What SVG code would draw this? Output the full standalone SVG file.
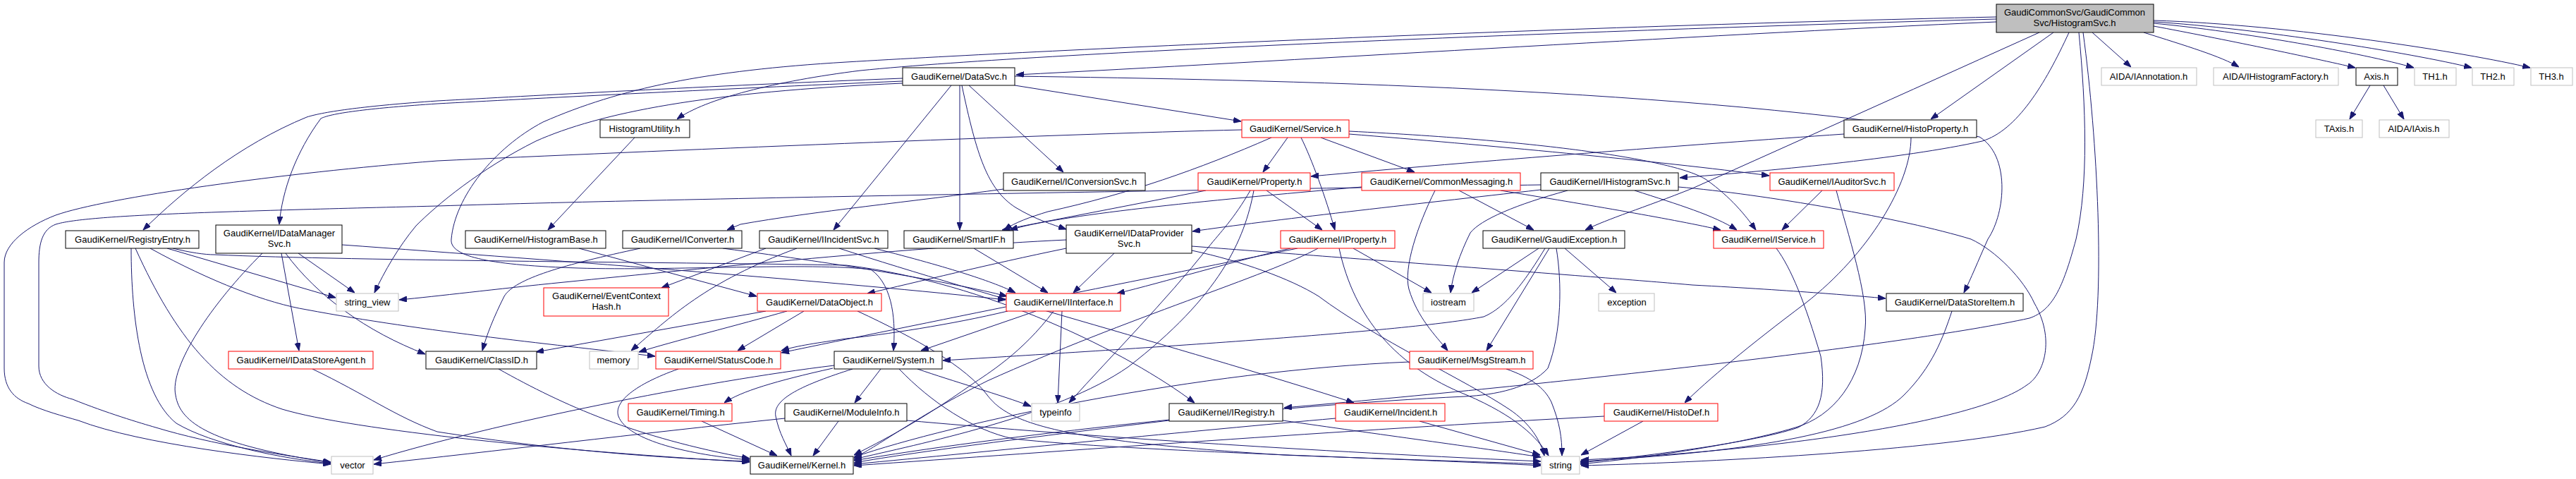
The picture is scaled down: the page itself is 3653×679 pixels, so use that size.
<svg xmlns="http://www.w3.org/2000/svg" width="3653" height="679" viewBox="0 0 3653 679">
<style>
rect{fill:#fff;stroke:#000;stroke-width:1}
.r rect{stroke:#ff0000}
.g rect{stroke:#bfbfbf}
.top rect{fill:#bfbfbf;stroke:#000}
text{font-family:"Liberation Sans",Arial,sans-serif;font-size:13px;text-anchor:middle;fill:#000}
#edges path{fill:none;stroke:#191970;stroke-width:1;marker-end:url(#ah)}
</style>
<defs>
<marker id="ah" markerWidth="11" markerHeight="8" refX="11" refY="4" orient="auto" markerUnits="userSpaceOnUse"><path d="M0,0 L11,4 L0,8 z" fill="#191970" stroke="#191970"/></marker>
</defs>
<rect x="0" y="0" width="3653" height="679" style="fill:#fff;stroke:none"/>
<g id="edges">
<path d="M2831,31 C2400,50 1800,88 1441,106"/>
<path d="M2831,27 C2300,42 1500,72 1220,100 C1100,115 1000,140 960,169"/>
<path d="M2831,24 C2200,38 1500,70 1200,88 C1000,100 880,125 770,173 C700,210 645,280 640,339 C637,365 700,376 820,380 C950,384 1150,372 1235,382 C1268,405 1270,460 1267,497"/>
<path d="M2912,46 L2738,169"/>
<path d="M2892,46 C2750,110 2550,200 2400,267 C2330,295 2280,310 2248,326"/>
<path d="M2934,46 C2900,120 2860,185 2811,200 C2700,225 2500,243 2382,252"/>
<path d="M2948,46 C2958,150 2962,260 2944,339 C2925,410 2910,440 2878,451 C2700,490 2200,545 1821,578"/>
<path d="M2954,46 C2975,200 2985,420 2966,506 C2955,560 2940,590 2900,605 C2750,640 2400,656 2242,660"/>
<path d="M2380,265 C2500,275 2700,310 2795,339 C2830,355 2870,396 2885,430 C2914,479 2900,530 2874,546 C2800,600 2500,640 2242,652"/>
<path d="M2967,46 L3022,95"/>
<path d="M3040,46 C3100,65 3150,80 3175,95"/>
<path d="M3054,37 C3150,55 3280,82 3340,96"/>
<path d="M3054,33 C3180,45 3350,75 3423,96"/>
<path d="M3054,31 C3200,40 3420,75 3505,96"/>
<path d="M3054,29 C3250,35 3500,75 3588,96"/>
<path d="M3361,121 L3332,169"/>
<path d="M3380,121 L3409,169"/>
<path d="M1280,111 C1000,122 750,136 620,143 C520,150 460,158 435,166 C340,205 260,270 203,326"/>
<path d="M1280,115 C1000,127 750,140 620,147 C530,153 470,160 455,168 C420,215 400,270 396,318"/>
<path d="M1349,121 L1182,326"/>
<path d="M1361,121 L1361,326"/>
<path d="M1364,121 C1385,220 1400,268 1440,294 C1470,312 1492,318 1512,325"/>
<path d="M1374,121 L1508,244"/>
<path d="M1439,121 L1760,172"/>
<path d="M1439,108 C1800,113 2400,125 2807,194 C2850,220 2845,300 2819,339 C2805,370 2795,395 2785,415"/>
<path d="M1280,118 C1000,130 850,160 760,200 C680,240 620,290 590,320 C565,350 545,385 531,415"/>
<path d="M900,195 L777,326"/>
<path d="M1761,184 C1500,190 900,215 620,228 C400,245 150,280 79,305 C40,320 6,345 6,372 L6,522 C6,550 20,565 40,572 C60,582 90,590 111,596 C200,630 380,650 469,658"/>
<path d="M1826,195 L1791,244"/>
<path d="M1803,195 C1700,240 1600,275 1486,300 C1460,308 1440,315 1424,326"/>
<path d="M1845,195 C1860,225 1880,280 1893,326"/>
<path d="M1873,195 L2006,244"/>
<path d="M1913,190 C2100,205 2350,228 2509,249"/>
<path d="M1913,186 C2200,200 2380,228 2420,255 C2455,280 2475,305 2490,326"/>
<path d="M2615,190 C2400,205 2100,228 1859,250"/>
<path d="M2710,195 C2710,260 2650,360 2560,430 C2480,490 2420,540 2389,571"/>
<path d="M1423,268 C1300,285 1150,300 1050,318 L1031,326"/>
<path d="M1796,270 L1875,326"/>
<path d="M1710,270 L1421,326"/>
<path d="M1773,270 C1750,310 1730,330 1714,350 C1650,430 1580,500 1516,571"/>
<path d="M1778,270 C1765,340 1730,420 1600,520 C1500,590 1300,630 1211,651"/>
<path d="M2035,270 C2010,320 1990,380 1998,410 C2010,450 2035,475 2053,497"/>
<path d="M2069,270 L2175,326"/>
<path d="M2128,270 C2250,290 2380,312 2440,326"/>
<path d="M1931,265 C1700,285 1500,305 1432,326"/>
<path d="M2185,269 C2000,290 1800,312 1691,328"/>
<path d="M2223,270 C2150,290 2100,311 2085,330 C2070,360 2060,390 2057,415"/>
<path d="M2318,270 C2380,290 2430,305 2463,326"/>
<path d="M2185,262 C1800,268 1000,280 620,292 C300,300 120,305 79,318 C60,325 55,345 55,372 L55,519 C55,545 80,560 103,566 C150,585 200,600 221,606 C300,630 400,645 469,655"/>
<path d="M2584,270 L2527,326"/>
<path d="M2604,270 C2620,330 2650,420 2645,466 C2640,540 2600,590 2546,606 C2450,635 2300,652 2241,658"/>
<path d="M1830,352 C1750,370 1650,400 1584,416"/>
<path d="M1919,352 L2030,415"/>
<path d="M1899,352 C1920,450 1980,520 2080,560 C2150,590 2180,620 2196,646"/>
<path d="M1869,352 C1800,390 1600,450 1400,540 C1300,590 1250,630 1211,649"/>
<path d="M1840,352 C1600,400 1300,460 1108,500"/>
<path d="M2182,352 L2087,415"/>
<path d="M2191,352 C2150,420 2125,440 2104,449 C2000,470 1600,495 1337,511"/>
<path d="M2197,352 L2108,497"/>
<path d="M2219,352 L2292,415"/>
<path d="M2207,352 C2215,400 2215,470 2195,522 C2170,550 2120,560 2077,562 C1800,575 1400,620 1211,653"/>
<path d="M1690,349 C1900,365 2300,395 2400,404 C2550,412 2640,420 2674,423"/>
<path d="M1580,359 L1522,415"/>
<path d="M1512,352 C1400,375 1300,400 1230,416"/>
<path d="M1690,355 C1760,370 1830,395 1870,420 C1950,480 2080,540 2140,580 C2170,600 2185,625 2190,646"/>
<path d="M1512,340 C1300,350 1000,380 800,400 C700,410 620,420 566,425"/>
<path d="M2519,352 C2540,380 2560,430 2582,505 C2590,560 2580,590 2550,606 C2480,630 2300,650 2241,656"/>
<path d="M2768,441 C2755,480 2740,520 2700,560 C2650,610 2500,640 2241,654"/>
<path d="M443,523 C520,560 560,590 620,612 C800,640 950,650 1063,654"/>
<path d="M707,523 C800,575 900,620 1063,650"/>
<path d="M962,523 C900,545 870,570 877,590 C890,625 980,645 1063,652"/>
<path d="M1086,441 L760,499"/>
<path d="M1116,441 C1050,460 950,485 906,499"/>
<path d="M1140,441 L1046,497"/>
<path d="M1216,441 C1300,480 1370,520 1400,560 C1430,600 1500,625 1820,645 C2000,652 2150,656 2185,658"/>
<path d="M1469,441 L1306,497"/>
<path d="M1506,441 L1500,571"/>
<path d="M1494,441 C1450,500 1400,530 1378,545 C1300,600 1250,625 1211,645"/>
<path d="M1429,441 C1350,460 1250,475 1200,480 C1160,486 1130,490 1108,497"/>
<path d="M1249,523 L1212,571"/>
<path d="M1301,523 C1350,540 1420,560 1462,576"/>
<path d="M1209,523 C1140,545 1095,565 1100,590 C1105,615 1115,630 1122,646"/>
<path d="M1181,522 C1100,540 1050,555 1027,571"/>
<path d="M1275,523 C1320,570 1380,610 1437,622 C1600,640 2000,650 2185,660"/>
<path d="M1183,518 C1000,540 700,600 530,652"/>
<path d="M1189,597 L1153,646"/>
<path d="M1113,593 C900,615 700,640 530,658"/>
<path d="M1286,596 C1500,615 1800,637 2185,654"/>
<path d="M995,597 L1102,646"/>
<path d="M1658,596 C1500,615 1300,640 1211,656"/>
<path d="M1819,596 C1950,615 2100,635 2185,648"/>
<path d="M1894,593 C1700,610 1400,640 1211,658"/>
<path d="M2013,597 L2184,645"/>
<path d="M2330,597 L2242,645"/>
<path d="M2275,590 C1900,610 1500,640 1211,660"/>
<path d="M2136,523 C2170,535 2190,549 2200,570 C2212,600 2215,620 2215,646"/>
<path d="M1999,513 C1700,525 1350,600 1211,648"/>
<path d="M186,352 C186,450 200,560 250,600 C300,630 400,650 469,657"/>
<path d="M192,352 C250,480 310,550 400,580 C500,610 800,640 1063,655"/>
<path d="M213,352 C300,400 380,430 435,439 C600,470 800,490 929,505"/>
<path d="M237,352 L476,422"/>
<path d="M245,352 C270,358 290,361 304,361 C500,370 1000,372 1200,376 C1400,400 1600,500 1694,571"/>
<path d="M372,359 C300,430 240,520 249,560 C255,600 300,630 469,656"/>
<path d="M399,359 L424,497"/>
<path d="M423,359 L503,415"/>
<path d="M405,359 C450,420 520,470 603,502"/>
<path d="M485,347 C800,370 1200,400 1426,425"/>
<path d="M821,352 L1073,420"/>
<path d="M908,352 C800,375 730,395 715,420 C700,450 690,475 684,497"/>
<path d="M1025,352 C1200,375 1350,400 1428,420"/>
<path d="M1086,352 L938,408"/>
<path d="M1130,352 C1000,400 950,450 895,497"/>
<path d="M1190,352 C1400,420 1700,500 1920,571"/>
<path d="M1240,352 C1350,380 1410,400 1440,415"/>
<path d="M1381,352 L1486,415"/>
</g>
<g id="n_top" class="top"><rect x="2831" y="6" width="223" height="40"/><text x="2942" y="22">GaudiCommonSvc/GaudiCommon</text><text x="2942" y="37">Svc/HistogramSvc.h</text></g>
<g id="n_datasvc"><rect x="1280" y="96" width="159" height="25"/><text x="1360" y="113">GaudiKernel/DataSvc.h</text></g>
<g id="n_histutil"><rect x="851" y="170" width="127" height="25"/><text x="914" y="187">HistogramUtility.h</text></g>
<g id="n_service" class="r"><rect x="1761" y="170" width="152" height="25"/><text x="1837" y="187">GaudiKernel/Service.h</text></g>
<g id="n_histoprop"><rect x="2615" y="170" width="188" height="25"/><text x="2709" y="187">GaudiKernel/HistoProperty.h</text></g>
<g id="n_iannot" class="g"><rect x="2980" y="96" width="135" height="25"/><text x="3047" y="113">AIDA/IAnnotation.h</text></g>
<g id="n_ihfact" class="g"><rect x="3139" y="96" width="177" height="25"/><text x="3227" y="113">AIDA/IHistogramFactory.h</text></g>
<g id="n_axis"><rect x="3341" y="96" width="59" height="25"/><text x="3370" y="113">Axis.h</text></g>
<g id="n_th1" class="g"><rect x="3424" y="96" width="59" height="25"/><text x="3453" y="113">TH1.h</text></g>
<g id="n_th2" class="g"><rect x="3506" y="96" width="59" height="25"/><text x="3535" y="113">TH2.h</text></g>
<g id="n_th3" class="g"><rect x="3589" y="96" width="59" height="25"/><text x="3618" y="113">TH3.h</text></g>
<g id="n_taxis" class="g"><rect x="3284" y="170" width="66" height="25"/><text x="3317" y="187">TAxis.h</text></g>
<g id="n_iaxis" class="g"><rect x="3374" y="170" width="99" height="25"/><text x="3423" y="187">AIDA/IAxis.h</text></g>
<g id="n_regentry"><rect x="93" y="327" width="189" height="25"/><text x="188" y="344">GaudiKernel/RegistryEntry.h</text></g>
<g id="n_idms"><rect x="306" y="319" width="179" height="40"/><text x="396" y="335">GaudiKernel/IDataManager</text><text x="396" y="350">Svc.h</text></g>
<g id="n_iconvsvc"><rect x="1423" y="245" width="201" height="25"/><text x="1523" y="262">GaudiKernel/IConversionSvc.h</text></g>
<g id="n_property" class="r"><rect x="1699" y="245" width="159" height="25"/><text x="1779" y="262">GaudiKernel/Property.h</text></g>
<g id="n_commsg" class="r"><rect x="1931" y="245" width="225" height="25"/><text x="2044" y="262">GaudiKernel/CommonMessaging.h</text></g>
<g id="n_ihistsvc"><rect x="2185" y="245" width="195" height="25"/><text x="2283" y="262">GaudiKernel/IHistogramSvc.h</text></g>
<g id="n_iauditsvc" class="r"><rect x="2510" y="245" width="176" height="25"/><text x="2598" y="262">GaudiKernel/IAuditorSvc.h</text></g>
<g id="n_histbase"><rect x="660" y="327" width="199" height="25"/><text x="760" y="344">GaudiKernel/HistogramBase.h</text></g>
<g id="n_iconverter"><rect x="883" y="327" width="169" height="25"/><text x="968" y="344">GaudiKernel/IConverter.h</text></g>
<g id="n_iincsvc"><rect x="1077" y="327" width="182" height="25"/><text x="1168" y="344">GaudiKernel/IIncidentSvc.h</text></g>
<g id="n_smartif"><rect x="1282" y="327" width="155" height="25"/><text x="1360" y="344">GaudiKernel/SmartIF.h</text></g>
<g id="n_idps"><rect x="1512" y="319" width="178" height="40"/><text x="1601" y="335">GaudiKernel/IDataProvider</text><text x="1601" y="350">Svc.h</text></g>
<g id="n_iproperty" class="r"><rect x="1816" y="327" width="162" height="25"/><text x="1897" y="344">GaudiKernel/IProperty.h</text></g>
<g id="n_gexc"><rect x="2103" y="327" width="201" height="25"/><text x="2204" y="344">GaudiKernel/GaudiException.h</text></g>
<g id="n_iservice" class="r"><rect x="2430" y="327" width="156" height="25"/><text x="2508" y="344">GaudiKernel/IService.h</text></g>
<g id="n_strview" class="g"><rect x="477" y="416" width="88" height="25"/><text x="521" y="433">string_view</text></g>
<g id="n_evhash" class="r"><rect x="771" y="408" width="177" height="40"/><text x="860" y="424">GaudiKernel/EventContext</text><text x="860" y="439">Hash.h</text></g>
<g id="n_dataobj" class="r"><rect x="1074" y="416" width="176" height="25"/><text x="1162" y="433">GaudiKernel/DataObject.h</text></g>
<g id="n_iinterface" class="r"><rect x="1427" y="416" width="162" height="25"/><text x="1508" y="433">GaudiKernel/IInterface.h</text></g>
<g id="n_iostream" class="g"><rect x="2018" y="416" width="72" height="25"/><text x="2054" y="433">iostream</text></g>
<g id="n_exception" class="g"><rect x="2267" y="416" width="79" height="25"/><text x="2307" y="433">exception</text></g>
<g id="n_dsitem"><rect x="2675" y="416" width="194" height="25"/><text x="2772" y="433">GaudiKernel/DataStoreItem.h</text></g>
<g id="n_idsagent" class="r"><rect x="324" y="498" width="205" height="25"/><text x="427" y="515">GaudiKernel/IDataStoreAgent.h</text></g>
<g id="n_classid"><rect x="604" y="498" width="157" height="25"/><text x="683" y="515">GaudiKernel/ClassID.h</text></g>
<g id="n_memory" class="g"><rect x="836" y="498" width="69" height="25"/><text x="870" y="515">memory</text></g>
<g id="n_statuscode" class="r"><rect x="930" y="498" width="177" height="25"/><text x="1019" y="515">GaudiKernel/StatusCode.h</text></g>
<g id="n_system"><rect x="1183" y="498" width="153" height="25"/><text x="1260" y="515">GaudiKernel/System.h</text></g>
<g id="n_msgstream" class="r"><rect x="1999" y="498" width="175" height="25"/><text x="2087" y="515">GaudiKernel/MsgStream.h</text></g>
<g id="n_timing" class="r"><rect x="891" y="572" width="147" height="25"/><text x="965" y="589">GaudiKernel/Timing.h</text></g>
<g id="n_modinfo"><rect x="1113" y="572" width="173" height="25"/><text x="1200" y="589">GaudiKernel/ModuleInfo.h</text></g>
<g id="n_typeinfo" class="g"><rect x="1463" y="572" width="68" height="25"/><text x="1497" y="589">typeinfo</text></g>
<g id="n_iregistry"><rect x="1658" y="572" width="161" height="25"/><text x="1739" y="589">GaudiKernel/IRegistry.h</text></g>
<g id="n_incident" class="r"><rect x="1894" y="572" width="155" height="25"/><text x="1972" y="589">GaudiKernel/Incident.h</text></g>
<g id="n_histodef" class="r"><rect x="2275" y="572" width="161" height="25"/><text x="2356" y="589">GaudiKernel/HistoDef.h</text></g>
<g id="n_vector" class="g"><rect x="470" y="647" width="59" height="25"/><text x="500" y="664">vector</text></g>
<g id="n_kernel"><rect x="1064" y="647" width="146" height="25"/><text x="1137" y="664">GaudiKernel/Kernel.h</text></g>
<g id="n_string" class="g"><rect x="2186" y="647" width="54" height="25"/><text x="2213" y="664">string</text></g>
</svg>
